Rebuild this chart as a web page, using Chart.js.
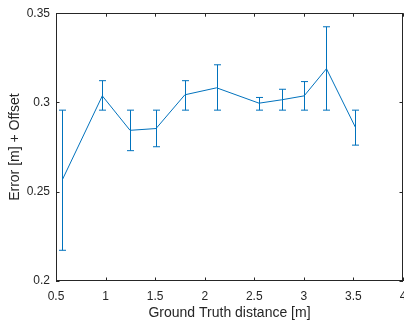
<!DOCTYPE html>
<html>
<head>
<meta charset="utf-8">
<script src="https://cdn.jsdelivr.net/npm/chart.js@4"></script>
<style>
    html, body { margin: 0; padding: 0; background: #fff; }
    #wrap { width: 404px; height: 320px; }
</style>
</head>
<body>
<div id="wrap"><canvas id="errChart" width="404" height="320"></canvas></div>
<script>
const distances = [0.564, 0.967, 1.247, 1.509, 1.80, 2.12, 2.548, 2.777, 3.003, 3.228, 3.52];
const errorValues = [0.2567, 0.3037, 0.2844, 0.2854, 0.3043, 0.3082, 0.2996, 0.3015, 0.3037, 0.3189, 0.2861];
const errorLower = [0.2172, 0.2957, 0.2730, 0.2752, 0.2957, 0.2957, 0.2957, 0.2957, 0.2957, 0.2957, 0.2761];
const errorUpper = [0.2957, 0.3122, 0.2957, 0.2957, 0.3122, 0.3211, 0.3028, 0.3074, 0.3117, 0.3424, 0.2957];

const xTicks = [0.5, 1, 1.5, 2, 2.5, 3, 3.5, 4];
const yTicks = [0.2, 0.25, 0.3, 0.35];

const lineColor = '#0072BD';
const axisColor = '#262626';
const fontFamily = "'Liberation Sans', Arial, sans-serif";

// Error bars drawn through the chart scales
const errorBarPlugin = {
    id: 'errorBars',
    afterDatasetsDraw(chart) {
        const ctx = chart.ctx;
        const xs = chart.scales.x;
        const ys = chart.scales.y;
        const cap = 3.5;
        ctx.save();
        ctx.strokeStyle = lineColor;
        ctx.lineWidth = 1;
        distances.forEach((d, i) => {
            const px = Math.round(xs.getPixelForValue(d)) + 0.5;
            const top = ys.getPixelForValue(errorUpper[i]);
            const bot = ys.getPixelForValue(errorLower[i]);
            ctx.beginPath();
            ctx.moveTo(px, top);
            ctx.lineTo(px, bot);
            ctx.moveTo(px - cap, top);
            ctx.lineTo(px + cap, top);
            ctx.moveTo(px - cap, bot);
            ctx.lineTo(px + cap, bot);
            ctx.stroke();
        });
        ctx.restore();
    }
};

// MATLAB-style box with inward ticks
const boxPlugin = {
    id: 'matlabBox',
    afterDraw(chart) {
        const ctx = chart.ctx;
        const a = chart.chartArea;
        const xs = chart.scales.x;
        const ys = chart.scales.y;
        const len = 3.5;
        ctx.save();
        ctx.strokeStyle = axisColor;
        ctx.lineWidth = 1;
        ctx.strokeRect(Math.round(a.left) + 0.5, Math.round(a.top) + 0.5,
            Math.round(a.right - a.left) - 1, Math.round(a.bottom - a.top) - 1);
        ctx.beginPath();
        xTicks.forEach(t => {
            const px = Math.round(xs.getPixelForValue(t)) + 0.5;
            ctx.moveTo(px, a.bottom);
            ctx.lineTo(px, a.bottom - len);
            ctx.moveTo(px, a.top);
            ctx.lineTo(px, a.top + len);
        });
        yTicks.forEach(t => {
            const py = Math.round(ys.getPixelForValue(t)) + 0.5;
            ctx.moveTo(a.left, py);
            ctx.lineTo(a.left + len, py);
            ctx.moveTo(a.right, py);
            ctx.lineTo(a.right - len, py);
        });
        ctx.stroke();
        ctx.restore();
    }
};

const tickFont = { family: fontFamily, size: 12 };
const titleFont = { family: fontFamily, size: 14, lineHeight: 1 };

new Chart(document.getElementById('errChart').getContext('2d'), {
    type: 'scatter',
    data: {
        datasets: [{
            data: distances.map((d, i) => ({ x: d, y: errorValues[i] })),
            showLine: true,
            borderColor: lineColor,
            borderWidth: 1,
            pointRadius: 0,
            tension: 0
        }]
    },
    options: {
        responsive: false,
        animation: false,
        layout: { padding: { top: 11, right: 1, left: 0, bottom: 0 } },
        plugins: {
            legend: { display: false },
            tooltip: { enabled: false }
        },
        scales: {
            x: {
                type: 'linear',
                min: 0.5,
                max: 4,
                afterBuildTicks: s => { s.ticks = xTicks.map(v => ({ value: v })); },
                afterFit: s => { s.height = 39; s.paddingLeft = 0; s.paddingRight = 0; },
                grid: { display: false, drawTicks: false },
                border: { display: false },
                ticks: {
                    color: axisColor,
                    font: tickFont,
                    padding: 8,
                    maxRotation: 0,
                    autoSkip: false,
                    callback: v => String(+v.toFixed(2))
                },
                title: {
                    display: true,
                    text: 'Ground Truth distance [m]',
                    color: axisColor,
                    font: titleFont,
                    padding: { top: 0, bottom: 0 }
                }
            },
            y: {
                type: 'linear',
                min: 0.2,
                max: 0.35,
                afterBuildTicks: s => { s.ticks = yTicks.map(v => ({ value: v })); },
                afterFit: s => { s.width = 56; },
                grid: { display: false, drawTicks: false },
                border: { display: false },
                ticks: {
                    color: axisColor,
                    font: tickFont,
                    padding: 6,
                    callback: v => String(+v.toFixed(2))
                },
                title: {
                    display: true,
                    text: 'Error [m] + Offset',
                    color: axisColor,
                    font: titleFont,
                    padding: { top: 8, bottom: 0 }
                }
            }
        }
    },
    plugins: [errorBarPlugin, boxPlugin]
});
</script>
</body>
</html>
